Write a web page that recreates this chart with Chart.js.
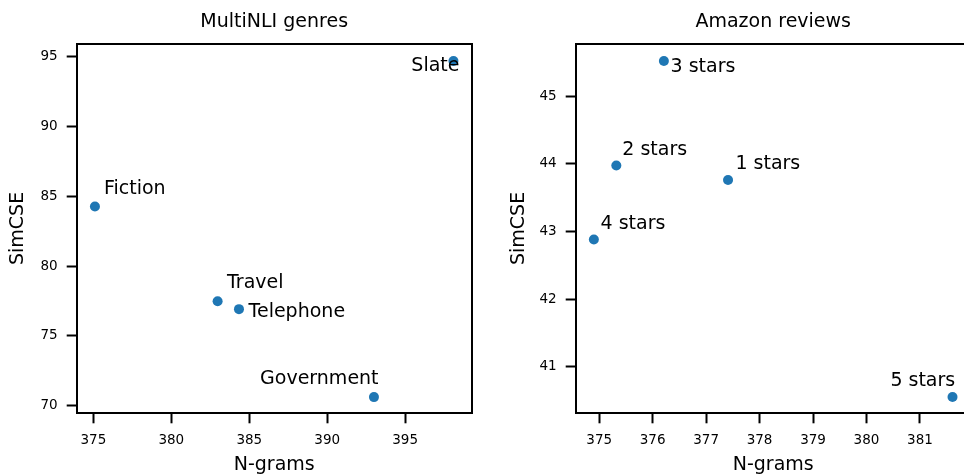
<!DOCTYPE html>
<html>
<head>
<meta charset="utf-8">
<script src="https://cdn.jsdelivr.net/npm/chart.js@4/dist/chart.umd.min.js"></script>
<style>
  body { margin: 0; background: #fff; overflow: hidden; }
  canvas { position: absolute; top: 0; }
  #leftChart { left: 0; }
  #rightChart { left: 484px; }
</style>
</head>
<body>
<canvas id="leftChart" width="484" height="475"></canvas>
<canvas id="rightChart" width="500" height="475"></canvas>
<script>
    // MultiNLI genres
    const genreNames = ['Fiction', 'Government', 'Slate', 'Telephone', 'Travel'];
    const genreNgrams = [375.1, 393.0, 398.1, 384.34, 382.97];
    const genreSimcse = [84.28, 70.62, 94.7, 76.92, 77.49];
    const genreXTicks = [375, 380, 385, 390, 395];
    const genreYTicks = [70, 75, 80, 85, 90, 95];

    // Amazon reviews (the right panel runs past the edge of the picture)
    const starNames = ['1 stars', '2 stars', '3 stars', '4 stars', '5 stars'];
    const starNgrams = [377.41, 375.32, 376.21, 374.90, 381.61];
    const starSimcse = [43.76, 43.975, 45.52, 42.88, 40.55];
    const starXTicks = [375, 376, 377, 378, 379, 380, 381];
    const starYTicks = [41, 42, 43, 44, 45];

    // label placement relative to the point, in pixels
    const genreLabelPos = [[9, -12, 'left'], [4.6, -12.7, 'right'], [6, 10, 'right'], [9.6, 8, 'left'], [9.4, -13, 'left']];
    const starLabelPos = [[7.4, -10.7, 'left'], [6, -10.7, 'left'], [6.7, 10.7, 'left'], [6.7, -11, 'left'], [2.7, -11, 'right']];

    const FONT = 'DejaVu Sans';
    const BLUE = '#1f77b4';
    const BIG = 19;
    const SMALL = 13.5;

    const pointLabels = {
        id: 'pointLabels',
        afterDatasetsDraw(chart, args, opts) {
            const ctx = chart.ctx;
            const xs = chart.scales.x, ys = chart.scales.y;
            ctx.save();
            ctx.font = BIG + 'px "' + FONT + '"';
            ctx.fillStyle = '#000';
            ctx.textBaseline = 'alphabetic';
            opts.names.forEach((name, i) => {
                const p = chart.data.datasets[0].data[i];
                const pos = opts.pos[i];
                ctx.textAlign = pos[2];
                ctx.fillText(name, xs.getPixelForValue(p.x) + pos[0], ys.getPixelForValue(p.y) + pos[1]);
            });
            ctx.restore();
        }
    };

    function makeChart(id, opt) {
        const points = opt.xs.map((x, i) => ({ x: x, y: opt.ys[i] }));
        const border = { display: true, color: '#000', width: 2 };
        const axis = (ticks, min, max) => ({
            type: 'linear',
            min: min,
            max: max,
            afterBuildTicks: s => { s.ticks = ticks.map(v => ({ value: v })); },
            grid: { drawOnChartArea: false, drawTicks: true, tickLength: 10, tickWidth: 2, tickColor: '#000' },
            border: border,
            ticks: { color: '#000', padding: 9, font: { family: FONT, size: SMALL } }
        });
        const xAxis = axis(opt.xTicks, opt.xMin, opt.xMax);
        xAxis.afterFit = s => { s.height = 61.7; };
        xAxis.title = { display: true, text: 'N-grams', color: '#000', padding: { top: 0, bottom: 0 },
                        font: { family: FONT, size: BIG, lineHeight: 1 } };
        const yAxis = axis(opt.yTicks, opt.yMin, opt.yMax);
        yAxis.afterFit = s => { s.width = opt.yWidth; };
        yAxis.title = { display: true, text: 'SimCSE', color: '#000', padding: { top: opt.yTitlePad, bottom: 0 },
                        font: { family: FONT, size: BIG, lineHeight: 1 } };

        // top and right spines; the top one also carries the panel title
        const topAxis = {
            type: 'linear', position: 'top', min: opt.xMin, max: opt.xMax,
            grid: { drawOnChartArea: false, drawTicks: false },
            ticks: { display: false },
            border: border,
            afterFit: s => { s.height = 43.5; },
            title: { display: true, text: opt.title, color: '#000', padding: { top: 12.5, bottom: 0 },
                     font: { family: FONT, size: BIG, lineHeight: 1 } }
        };
        const rightAxis = {
            type: 'linear', position: 'right', min: opt.yMin, max: opt.yMax,
            grid: { drawOnChartArea: false, drawTicks: false },
            ticks: { display: false },
            border: border,
            afterFit: s => { s.width = opt.rightPad; }
        };

        return new Chart(document.getElementById(id), {
            type: 'scatter',
            data: {
                datasets: [{
                    data: points,
                    backgroundColor: BLUE,
                    borderWidth: 0,
                    pointRadius: 5,
                    pointHoverRadius: 5
                }]
            },
            options: {
                responsive: false,
                animation: false,
                devicePixelRatio: 1,
                layout: { padding: 0 },
                scales: { x: xAxis, y: yAxis, xTop: topAxis, yRight: rightAxis },
                plugins: {
                    legend: { display: false },
                    tooltip: { enabled: false },
                    title: { display: false },
                    pointLabels: { names: opt.names, pos: opt.labelPos }
                }
            },
            plugins: [pointLabels]
        });
    }

    makeChart('leftChart', {
        title: 'MultiNLI genres',
        names: genreNames, xs: genreNgrams, ys: genreSimcse,
        xTicks: genreXTicks, yTicks: genreYTicks,
        xMin: 373.93, xMax: 399.27, yMin: 69.46, yMax: 95.95,
        yWidth: 76.7, yTitlePad: 9, labelPos: genreLabelPos, rightPad: 12.3
    });

    makeChart('rightChart', {
        title: 'Amazon reviews',
        names: starNames, xs: starNgrams, ys: starSimcse,
        xTicks: starXTicks, yTicks: starYTicks,
        xMin: 374.56, xMax: 381.95, yMin: 40.31, yMax: 45.78,
        yWidth: 91.7, yTitlePad: 25.2, labelPos: starLabelPos, rightPad: 13.3
    });
</script>
</body>
</html>
